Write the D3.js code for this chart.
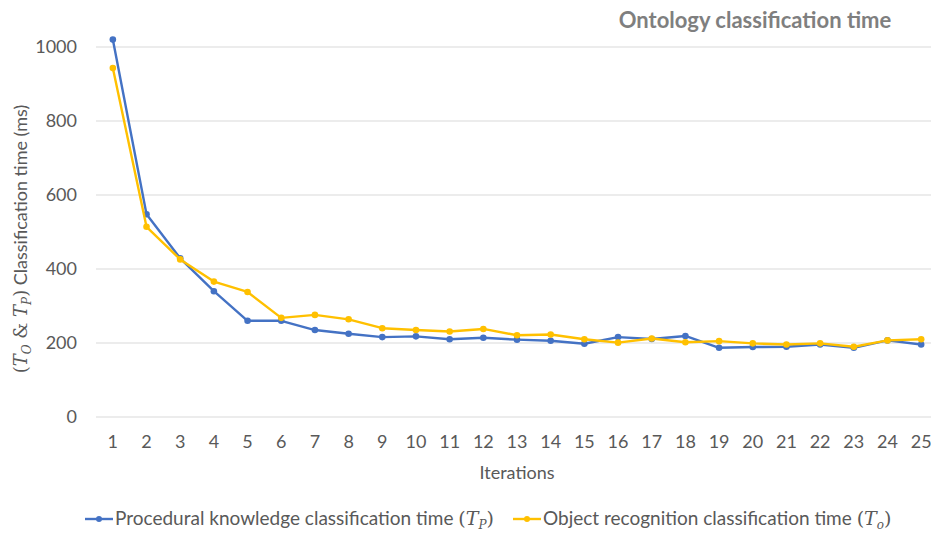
<!DOCTYPE html>
<html>
<head>
<meta charset="utf-8">
<script src="https://d3js.org/d3.v7.min.js"></script>
<style>
  body { margin: 0; background: #fff; }
  svg { display: block; }
  text { font-family: Lato, "Open Sans", sans-serif; fill: #595959; }
  .math { font-family: "DejaVu Serif", serif; font-style: italic; }
</style>
</head>
<body>
<div class="svg-container"></div>
<script>
// chart data
const iterations = d3.range(1, 26);
const procedural = [1020, 548, 429, 340, 260, 260, 235, 225, 216, 218, 210, 214, 209, 206, 198, 216, 211, 219, 187, 189, 190, 196, 187, 207, 196];
const objectRec = [943, 514, 426, 366, 338, 268, 276, 264, 240, 235, 231, 238, 221, 223, 210, 201, 212, 202, 205, 199, 196, 199, 190, 207, 210];
const yTicks = [0, 200, 400, 600, 800, 1000];

const series = [
  { name: 'Procedural knowledge classification time', sub: 'P', values: procedural, color: '#4472c4' },
  { name: 'Object recognition classification time', sub: 'o', values: objectRec, color: '#ffc000' }
];

const svgWidth = 931;
const svgHeight = 533;
const plotLeft = 96;
const plotRight = 938;

const svg = d3.select('.svg-container').append('svg')
  .attr('width', svgWidth)
  .attr('height', svgHeight);

const x = d3.scaleBand()
  .domain(iterations)
  .range([plotLeft, plotRight]);

const y = d3.scaleLinear()
  .domain([0, 1000])
  .range([417, 47]);

// gridlines
svg.append('g')
  .selectAll('line')
  .data(yTicks)
  .enter()
  .append('line')
  .attr('x1', plotLeft)
  .attr('x2', svgWidth)
  .attr('y1', d => y(d))
  .attr('y2', d => y(d))
  .attr('stroke', '#d9d9d9')
  .attr('stroke-width', 1);

// y axis labels
const yAxis = d3.axisLeft(y).tickValues(yTicks).tickFormat(d3.format('d')).tickSize(0).tickPadding(19);
const yAxisGroup = svg.append('g')
  .attr('transform', 'translate(' + plotLeft + ',0)')
  .call(yAxis);
yAxisGroup.select('.domain').remove();
yAxisGroup.selectAll('text')
  .style('font-size', '18px')
  .attr('fill', '#595959');

// x axis labels
const xAxis = d3.axisBottom(x).tickSize(0).tickPadding(18);
const xAxisGroup = svg.append('g')
  .attr('transform', 'translate(0,' + y(0) + ')')
  .call(xAxis);
xAxisGroup.select('.domain').remove();
xAxisGroup.selectAll('text')
  .style('font-size', '18px')
  .attr('fill', '#595959');

// lines and markers
const line = d3.line()
  .x((d, i) => x(iterations[i]) + x.bandwidth() / 2)
  .y(d => y(d));

series.forEach(s => {
  svg.append('path')
    .datum(s.values)
    .attr('d', line)
    .attr('fill', 'none')
    .attr('stroke', s.color)
    .attr('stroke-width', 2.4)
    .attr('stroke-linejoin', 'round');
  svg.append('g')
    .selectAll('circle')
    .data(s.values)
    .enter()
    .append('circle')
    .attr('cx', (d, i) => x(iterations[i]) + x.bandwidth() / 2)
    .attr('cy', d => y(d))
    .attr('r', 3.3)
    .attr('fill', s.color);
});

// title
svg.append('text')
  .attr('x', 755)
  .attr('y', 28)
  .attr('text-anchor', 'middle')
  .style('font-size', '22px')
  .style('font-weight', 'bold')
  .style('fill', '#7f7f7f')
  .text('Ontology classification time');

// x axis title
svg.append('text')
  .attr('x', 517)
  .attr('y', 479)
  .attr('text-anchor', 'middle')
  .style('font-size', '18px')
  .text('Iterations');

// y axis title
const yTitle = svg.append('text')
  .attr('transform', 'translate(27,239) rotate(-90)')
  .attr('text-anchor', 'middle')
  .style('font-size', '18px');
yTitle.append('tspan').attr('class', 'math').style('font-style', 'normal').text('(');
yTitle.append('tspan').attr('class', 'math').text('T');
yTitle.append('tspan').attr('class', 'math').style('font-size', '12px').attr('dy', 4).text('O');
yTitle.append('tspan').attr('class', 'math').style('font-style', 'normal').attr('dy', -4).text(' & ');
yTitle.append('tspan').attr('class', 'math').text('T');
yTitle.append('tspan').attr('class', 'math').style('font-size', '12px').attr('dy', 4).text('P');
yTitle.append('tspan').attr('class', 'math').style('font-style', 'normal').attr('dy', -4).text(')');
yTitle.append('tspan').text(' Classification time (ms)');

// legend
const legendX = [85, 513];
const legendY = 519;
series.forEach((s, i) => {
  const g = svg.append('g').attr('transform', 'translate(' + legendX[i] + ',' + legendY + ')');
  g.append('line')
    .attr('x1', 0).attr('x2', 28)
    .attr('y1', 0).attr('y2', 0)
    .attr('stroke', s.color)
    .attr('stroke-width', 2.4);
  g.append('circle')
    .attr('cx', 14).attr('cy', 0).attr('r', 3)
    .attr('fill', s.color);
  const t = g.append('text')
    .attr('x', 30)
    .attr('y', 6)
    .style('font-size', '19px');
  t.append('tspan').text(s.name + ' ');
  t.append('tspan').attr('class', 'math').style('font-style', 'normal').text('(');
  t.append('tspan').attr('class', 'math').text('T');
  t.append('tspan').attr('class', 'math').style('font-size', '12px').attr('dy', 4).text(s.sub);
  t.append('tspan').attr('class', 'math').style('font-style', 'normal').attr('dy', -4).text(')');
});
</script>
</body>
</html>
